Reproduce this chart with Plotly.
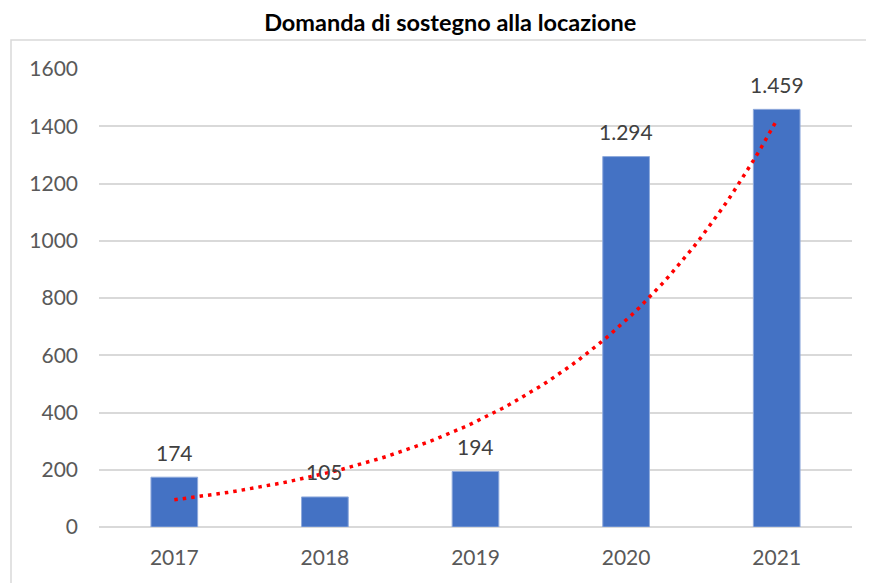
import numpy as np
import plotly.graph_objects as go

years = ["2017", "2018", "2019", "2020", "2021"]
values = [174, 105, 194, 1294, 1459]
value_labels = ["174", "105", "194", "1.294", "1.459"]
y_ticks = [0, 200, 400, 600, 800, 1000, 1200, 1400, 1600]

# exponential trendline (least-squares fit on log values, as Excel does)
xi = np.arange(1, len(values) + 1)
b, a = np.polyfit(xi, np.log(values), 1)
xs = np.linspace(1, len(values), 80)
trend = np.exp(a + b * xs)
xs_pos = xs - 1  # category positions 0..4

FONT = "Lato, 'Open Sans', sans-serif"
cats = list(range(len(years)))

fig = go.Figure()
fig.add_trace(go.Bar(
    x=cats, y=values,
    marker=dict(color="#4472C4", line=dict(color="#8FAADC", width=1)),
    hoverinfo="skip",
))
fig.add_trace(go.Scatter(
    x=xs_pos, y=trend, mode="lines",
    line=dict(color="#FF0000", width=3.5, dash="3.5px,5px"),
    hoverinfo="skip",
))

annotations = [
    dict(x=c, y=v, text=t, showarrow=False, xref="x", yref="y",
         yanchor="middle", yshift=25,
         font=dict(family=FONT, size=21, color="#404040"))
    for c, v, t in zip(cats, values, value_labels)
]

fig.update_layout(
    width=874, height=583,
    margin=dict(l=91, r=30, t=61, b=64),
    paper_bgcolor="white", plot_bgcolor="white",
    showlegend=False, bargap=0.69,
    title=dict(text="<b>Domanda di sostegno alla locazione</b>",
               x=0.506, xanchor="center", y=0.975, yanchor="middle",
               font=dict(family=FONT, size=23.5, color="#000000")),
    xaxis=dict(tickmode="array", tickvals=cats, ticktext=years,
               range=[-0.5, len(years) - 0.5], showgrid=False, zeroline=False,
               showline=False, ticklabelstandoff=16,
               tickfont=dict(family=FONT, size=21, color="#595959")),
    yaxis=dict(range=[0, 1600], tickvals=y_ticks, tickformat="d",
               showgrid=True, gridcolor="#D9D9D9", gridwidth=1.5,
               zeroline=True, zerolinecolor="#D9D9D9", zerolinewidth=1.5,
               showline=False, ticklabelstandoff=20,
               tickfont=dict(family=FONT, size=21, color="#595959")),
    annotations=annotations,
    shapes=[dict(type="rect", xref="paper", yref="paper",
                 x0=(3 - 91) / 753, x1=1.2, y0=-0.3, y1=(519 - 32) / 458,
                 line=dict(color="#D9D9D9", width=1.5), layer="below")],
)

fig.write_html("out.html")
